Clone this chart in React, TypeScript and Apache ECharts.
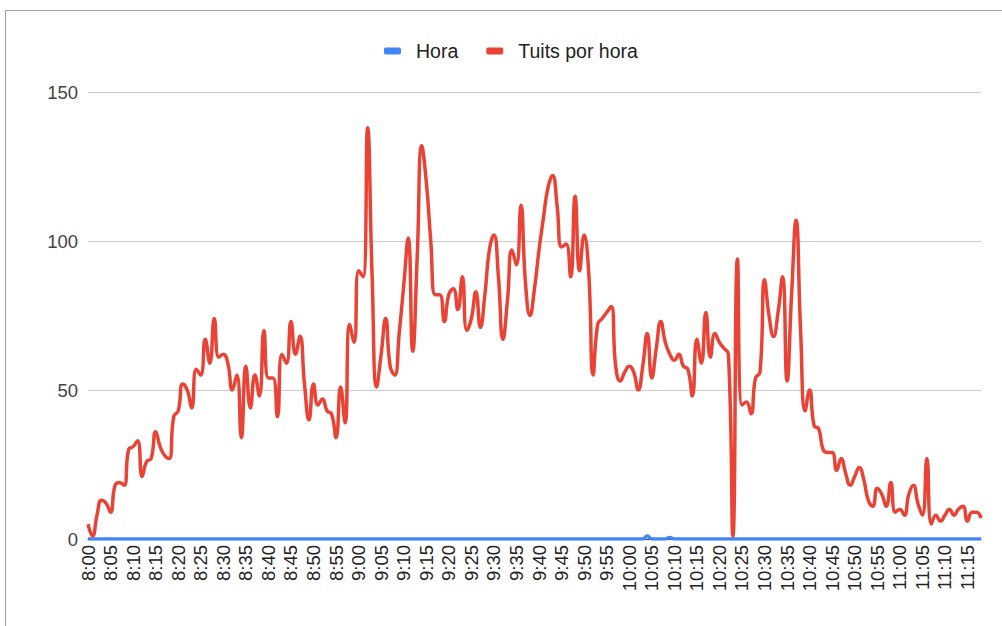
import React, { useEffect, useRef } from "react";
import * as echarts from "echarts";

// Minute-by-minute categories from 8:00 to 11:18
const START_HOUR = 8;
const MINUTES = 199;
const categories: string[] = [];
for (let i = 0; i < MINUTES; i++) {
  const h = START_HOUR + Math.floor(i / 60);
  const m = i % 60;
  categories.push(`${h}:${m < 10 ? "0" + m : m}`);
}

const seriesNames = ["Hora", "Tuits por hora"];

const hora = [
  0, 0, 0, 0, 0, 0, 0, 0, 0, 0,
  0, 0, 0, 0, 0, 0, 0, 0, 0, 0,
  0, 0, 0, 0, 0, 0, 0, 0, 0, 0,
  0, 0, 0, 0, 0, 0, 0, 0, 0, 0,
  0, 0, 0, 0, 0, 0, 0, 0, 0, 0,
  0, 0, 0, 0, 0, 0, 0, 0, 0, 0,
  0, 0, 0, 0, 0, 0, 0, 0, 0, 0,
  0, 0, 0, 0, 0, 0, 0, 0, 0, 0,
  0, 0, 0, 0, 0, 0, 0, 0, 0, 0,
  0, 0, 0, 0, 0, 0, 0, 0, 0, 0,
  0, 0, 0, 0, 0, 0, 0, 0, 0, 0,
  0, 0, 0, 0, 0, 0, 0, 0, 0, 0,
  0, 0, 0, 0, 1, 0, 0, 0, 0, 0.5,
  0, 0, 0, 0, 0, 0, 0, 0, 0, 0,
  0, 0, 0, 0, 0, 0, 0, 0, 0, 0,
  0, 0, 0, 0, 0, 0, 0, 0, 0, 0,
  0, 0, 0, 0, 0, 0, 0, 0, 0, 0,
  0, 0, 0, 0, 0, 0, 0, 0, 0, 0,
  0, 0, 0, 0, 0, 0, 0, 0, 0, 0,
  0, 0, 0, 0, 0, 0, 0, 0, 0,
];

const tuitsPorHora = [
  5, 1, 8, 13, 12, 9, 18, 19, 18, 30,
  31, 33, 21, 26, 27, 36, 31, 28, 27, 41,
  43, 52, 50, 44, 57, 55, 67, 59, 74, 61,
  62, 59, 50, 55, 34, 58, 44, 55, 48, 70,
  54, 54, 41, 62, 59, 73, 62, 68, 52, 40,
  52, 45, 47, 43, 42, 34, 51, 39, 72, 66,
  90, 88, 138, 88, 51, 62, 74, 58, 55, 69,
  85, 101, 63, 95, 132, 120, 100, 82, 82, 73,
  82, 84, 77, 88, 70, 74, 83, 71, 82, 97,
  102, 88, 67, 80, 97, 92, 112, 86, 75, 84,
  97, 108, 118, 122, 112, 98, 99, 88, 115, 90,
  102, 90, 55, 72, 74, 76, 78, 58, 53, 56,
  58, 56, 50, 58, 69, 54, 64, 73, 66, 62,
  60, 62, 58, 57, 48, 67, 59, 76, 61, 69,
  66, 64, 62, 1, 94, 45, 46, 42, 54, 56,
  87, 75, 68, 76, 88, 53, 82, 107, 70, 43,
  50, 38, 37, 30, 29, 29, 23, 27, 22, 18,
  21, 24, 20, 13, 11, 17, 15, 11, 19, 9,
  10, 8, 15, 18, 12, 8, 27, 5, 8, 6,
  8, 10, 8, 10, 11, 6, 9, 9, 7,
];

const yMin = 0;
const yMax = 150;
const yInterval = 50;

const FONT = "'Liberation Sans', Arial, sans-serif";

export default function App() {
  const ref = useRef<HTMLDivElement>(null);
  useEffect(() => {
    if (!ref.current) return;
    const chart = echarts.init(ref.current, undefined, { renderer: "svg" });
    chart.setOption({
      animation: false,
      backgroundColor: "#ffffff",
      textStyle: { fontFamily: FONT },
      graphic: [
        { type: "line", shape: { x1: 5.5, y1: 10.5, x2: 1002, y2: 10.5 }, style: { stroke: "#a0a0a0", lineWidth: 1 } },
        { type: "line", shape: { x1: 5.5, y1: 10.5, x2: 5.5, y2: 626 }, style: { stroke: "#a0a0a0", lineWidth: 1 } },
      ],
      legend: {
        data: seriesNames,
        top: 36,
        left: 379,
        icon: "roundRect",
        itemWidth: 17,
        itemHeight: 7,
        itemGap: 28,
        textStyle: {
          fontSize: 19.5,
          color: "#222222",
          fontFamily: FONT,
          padding: [0, 0, 0, 10],
        },
      },
      grid: { left: 88, right: 21, top: 92, bottom: 87, containLabel: false },
      xAxis: {
        type: "category",
        data: categories,
        boundaryGap: false,
        axisLine: { lineStyle: { color: "#333333", width: 1 } },
        axisTick: { show: false },
        axisLabel: {
          interval: 4,
          rotate: 90,
          fontSize: 18.5,
          color: "#222222",
          margin: 6,
          fontFamily: FONT,
        },
        splitLine: { show: false },
      },
      yAxis: {
        type: "value",
        min: yMin,
        max: yMax,
        interval: yInterval,
        axisLine: { show: false },
        axisTick: { show: false },
        axisLabel: { fontSize: 18.5, color: "#444444", margin: 10, fontFamily: FONT },
        splitLine: { lineStyle: { color: "#cccccc", width: 1 } },
      },
      series: [
        {
          name: seriesNames[0],
          type: "line",
          data: hora,
          smooth: true,
          showSymbol: false,
          lineStyle: { color: "#4285f4", width: 3.5 },
          itemStyle: { color: "#4285f4" },
          z: 2,
        },
        {
          name: seriesNames[1],
          type: "line",
          data: tuitsPorHora,
          smooth: true,
          showSymbol: false,
          lineStyle: { color: "#ea4335", width: 3.5 },
          itemStyle: { color: "#ea4335" },
          z: 3,
        },
      ],
    });
    return () => chart.dispose();
  }, []);
  return (
    <div
      ref={ref}
      style={{ position: "fixed", left: 0, top: 0, width: 1002, height: 626 }}
    />
  );
}
